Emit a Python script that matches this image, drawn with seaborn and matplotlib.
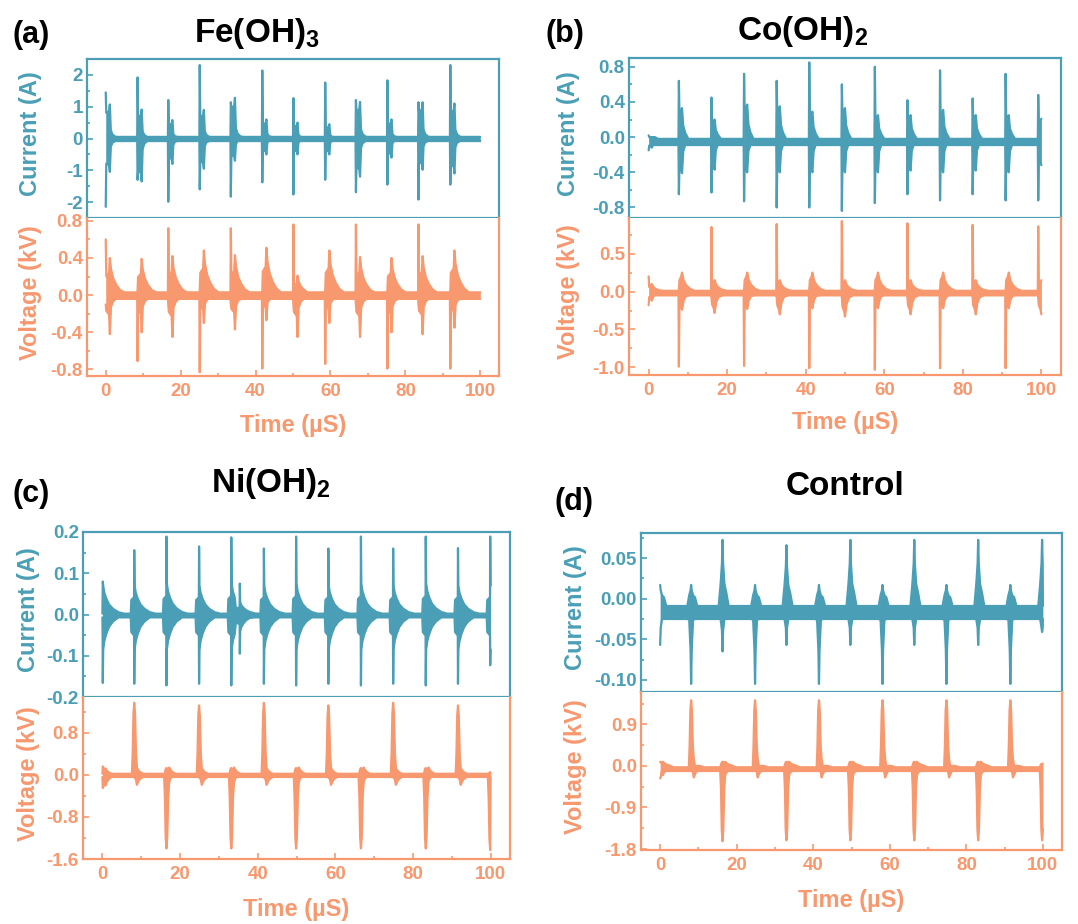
import numpy as np
import pandas as pd
import matplotlib
matplotlib.use("Agg")
import matplotlib.pyplot as plt
from matplotlib.ticker import MultipleLocator, FormatStrFormatter
import seaborn as sns

TEAL = "#4a9fb6"
CORAL = "#f7986f"

#### (a) Fe(OH)3 -- pulse times (us) and peak values
A_T = [0.0, 8.5, 16.7, 25.1, 33.4, 41.8, 50.1, 58.6, 66.8, 75.2, 83.5, 92.0]
A_CUR_HI = [1.45, 1.92, 1.21, 2.31, 1.14, 2.14, 1.27, 1.76, 1.21, 1.83, 1.14, 2.31]
A_CUR_LO = [-2.15, -1.30, -1.99, -1.60, -1.83, -1.38, -1.76, -1.30, -1.69, -1.45, -1.92, -1.45]
A_CUR_HI2 = [1.07, 0.91, 0.58, 0.90, 1.28, 0.60, 0.50, 0.45, 1.15, 0.60, 1.14, 1.10]
A_CUR_LO2 = [-1.05, -1.35, -0.80, -0.95, -0.70, -0.50, -0.50, -0.50, -1.20, -0.60, -0.98, -1.10]
A_VOLT_HI = [0.60, 0.05, 0.72, 0.05, 0.72, 0.05, 0.76, 0.05, 0.76, 0.05, 0.76, 0.05]
A_VOLT_LO = [-0.10, -0.71, -0.10, -0.83, -0.10, -0.79, -0.10, -0.74, -0.10, -0.79, -0.10, -0.79]
A_VOLT_HI2 = [0.40, 0.39, 0.42, 0.48, 0.43, 0.51, 0.21, 0.48, 0.41, 0.40, 0.42, 0.48]
A_VOLT_LO2 = [-0.42, -0.40, -0.45, -0.30, -0.37, -0.27, -0.45, -0.30, -0.45, -0.40, -0.42, -0.35]

#### (b) Co(OH)2
B_T = [0.0, 7.7, 16.0, 24.3, 32.6, 40.9, 49.2, 57.6, 65.9, 74.2, 82.5, 90.9, 99.2]
B_CUR_HI = [0.02, 0.64, 0.45, 0.72, 0.64, 0.85, 0.60, 0.80, 0.42, 0.76, 0.44, 0.72, 0.48]
B_CUR_LO = [-0.15, -0.65, -0.63, -0.73, -0.80, -0.80, -0.84, -0.75, -0.65, -0.72, -0.65, -0.72, -0.72]
B_CUR_HI2 = [0.00, 0.33, 0.20, 0.37, 0.35, 0.29, 0.33, 0.25, 0.25, 0.31, 0.25, 0.25, 0.21]
B_CUR_LO2 = [-0.12, -0.41, -0.37, -0.40, -0.40, -0.40, -0.40, -0.40, -0.38, -0.40, -0.38, -0.40, -0.32]
B_VOLT_HI = [0.20, 0.02, 0.85, 0.02, 0.89, 0.02, 0.93, 0.02, 0.90, 0.02, 0.88, 0.02, 0.86]
B_VOLT_LO = [-0.18, -0.99, -0.08, -0.98, -0.08, -1.01, -0.08, -1.03, -0.08, -1.01, -0.08, -1.01, -0.08]
B_VOLT_HI2 = [0.10, 0.25, 0.15, 0.25, 0.15, 0.25, 0.15, 0.25, 0.15, 0.25, 0.15, 0.25, 0.15]
B_VOLT_LO2 = [-0.12, -0.24, -0.28, -0.23, -0.30, -0.22, -0.33, -0.22, -0.30, -0.22, -0.30, -0.22, -0.30]

#### (c) Ni(OH)2
C_CUR_T = [0.1, 8.2, 16.5, 24.9, 33.2, 35.4, 41.6, 49.9, 58.2, 66.6, 74.9, 83.3, 91.6, 99.9]
C_CUR_HI = [0.080, 0.156, 0.189, 0.165, 0.187, 0.075, 0.160, 0.189, 0.160, 0.189, 0.160, 0.189, 0.161, 0.189]
C_CUR_LO = [-0.166, -0.168, -0.172, -0.168, -0.172, -0.095, -0.168, -0.172, -0.168, -0.172, -0.168, -0.172, -0.168, -0.123]
C_CUR_HI2 = [0.070, 0.070, 0.075, 0.070, 0.075, 0.030, 0.070, 0.075, 0.070, 0.075, 0.070, 0.075, 0.070, 0.070]
C_CUR_LO2 = [-0.085, -0.085, -0.085, -0.085, -0.085, -0.040, -0.085, -0.085, -0.085, -0.085, -0.085, -0.085, -0.085, -0.085]
C_VOLT_T = [0.1, 8.2, 16.5, 24.9, 33.2, 41.6, 49.9, 58.2, 66.6, 74.9, 83.3, 91.6, 99.9]
C_VOLT_HI = [0.16, 1.37, 0.13, 1.32, 0.13, 1.37, 0.13, 1.32, 0.13, 1.37, 0.13, 1.32, 0.05]
C_VOLT_LO = [-0.25, -0.05, -1.40, -0.05, -1.40, -0.05, -1.40, -0.05, -1.40, -0.05, -1.40, -0.05, -1.43]
C_VOLT_HI2 = [0.12, 0.13, 0.14, 0.13, 0.14, 0.13, 0.14, 0.13, 0.14, 0.13, 0.14, 0.13, 0.05]
C_VOLT_LO2 = [-0.20, -0.19, -0.10, -0.19, -0.10, -0.19, -0.10, -0.19, -0.10, -0.19, -0.10, -0.19, -0.10]

#### (d) Control
D_T = [0.0, 8.1, 16.3, 24.8, 33.0, 41.5, 49.7, 58.1, 66.4, 74.8, 83.1, 91.5, 99.8]
D_CUR_HI = [0.017, 0.017, 0.0725, 0.017, 0.066, 0.017, 0.0725, 0.017, 0.0725, 0.017, 0.0725, 0.017, 0.0725]
D_CUR_LO = [-0.057, -0.105, -0.065, -0.105, -0.057, -0.105, -0.057, -0.105, -0.057, -0.105, -0.057, -0.105, -0.041]
D_CUR_HI2 = [0.005] * 13
D_CUR_LO2 = [-0.036] * 13
D_VOLT_HI = [0.09, 1.42, 0.09, 1.42, 0.09, 1.42, 0.09, 1.42, 0.09, 1.42, 0.09, 1.42, 0.05]
D_VOLT_LO = [-0.27, -0.10, -1.63, -0.10, -1.61, -0.10, -1.61, -0.10, -1.61, -0.10, -1.61, -0.10, -1.61]
D_VOLT_HI2 = [0.09, 0.00, 0.09, 0.00, 0.09, 0.00, 0.09, 0.00, 0.09, 0.00, 0.09, 0.00, 0.05]
D_VOLT_LO2 = [-0.20, -0.25, -0.20, -0.25, -0.20, -0.25, -0.20, -0.25, -0.20, -0.25, -0.20, -0.25, -0.20]

# pulse envelope shapes: offsets (us), fraction of main peak,
# fraction of ringing peak on the upper side, same on the lower side
SHARP_CUR = ([-0.1, 0.0, 0.15, 0.9, 1.1, 1.35, 1.8, 2.6, 3.5],
             [0, 1, 0, 0, 0, 0, 0, 0, 0],
             [0, 0, 0.75, 0.8, 1, 0.25, 0.12, 0.05, 0],
             [0, 0, 0.75, 0.8, 1, 0.25, 0.12, 0.05, 0])
SHARP_VOLT = ([-0.1, 0.0, 0.15, 0.9, 1.1, 1.4, 2.0, 2.8, 3.8, 5.0],
              [0, 1, 0, 0, 0, 0, 0, 0, 0, 0],
              [0, 0, 0.5, 0.6, 1, 0.7, 0.45, 0.28, 0.14, 0],
              [0, 0, 0.4, 0.5, 1, 0.3, 0.15, 0.06, 0, 0])
B_CUR_SHAPE = ([-0.1, 0.0, 0.15, 0.6, 0.8, 1.1, 1.6, 2.4],
               [0, 1, 0, 0, 0, 0, 0, 0],
               [0, 0, 0.8, 0.9, 1, 0.4, 0.15, 0],
               [0, 0, 0.8, 0.9, 1, 0.4, 0.15, 0])
B_VOLT_SHAPE = ([-0.1, 0.0, 0.15, 0.6, 0.8, 1.2, 1.8, 2.8, 4.0],
                [0, 1, 0, 0, 0, 0, 0, 0, 0],
                [0, 0, 0.6, 0.8, 1, 0.6, 0.35, 0.15, 0],
                [0, 0, 0.6, 0.8, 1, 0.5, 0.25, 0.1, 0])
RING_CUR = ([-0.9, -0.75, -0.05, 0.0, 0.1, 0.4, 0.9, 1.6, 2.6, 4.0, 5.5],
            [0, 0, 0, 1, 0, 0, 0, 0, 0, 0, 0],
            [0, 0.5, 0.6, 0, 1, 0.75, 0.55, 0.35, 0.2, 0.08, 0],
            [0, 0.5, 0.6, 0, 1, 0.75, 0.55, 0.35, 0.2, 0.08, 0])
WIDE_VOLT = ([-0.6, -0.4, -0.2, 0.0, 0.2, 0.45, 0.7, 1.0, 1.5, 2.3, 3.5],
             [0, 0.3, 0.85, 1, 0.85, 0.3, 0.1, 0, 0, 0, 0],
             [0, 0, 0, 0, 0, 0.5, 1, 0.7, 0.4, 0.15, 0],
             [0, 0, 0, 0, 0, 0.5, 1, 0.7, 0.4, 0.15, 0])
TRI_CUR = ([-1.0, -0.5, -0.15, 0.0, 0.15, 0.5, 1.0, 1.6],
           [0, 0.25, 0.6, 1, 0.6, 0.25, 0.1, 0],
           [0, 0.6, 1, 0, 1, 0.6, 0.3, 0],
           [0, 0.6, 1, 0, 1, 0.6, 0.3, 0])


def envelope(times, hi, lo, hi2, lo2, shape, base, t_end=100.0):
    dt, fm, fs_up, fs_dn = shape
    xs, up, dn = [], [], []
    for i, t0 in enumerate(times):
        stop = times[i + 1] + dt[0] if i + 1 < len(times) else t_end
        for d, a, b, c in zip(dt, fm, fs_up, fs_dn):
            x = t0 + d
            if x < 0 or x > stop or (xs and x <= xs[-1]):
                continue
            u = [base[0]] + ([hi[i] * a] if a else []) + ([hi2[i] * b] if b else [])
            l = [base[1]] + ([lo[i] * a] if a else []) + ([lo2[i] * c] if c else [])
            xs.append(x)
            up.append(max(u))
            dn.append(min(l))
    if xs[0] > 0:
        xs, up, dn = [0.0] + xs, [base[0]] + up, [base[1]] + dn
    if xs[-1] < t_end:
        xs.append(t_end)
        up.append(base[0])
        dn.append(base[1])
    return pd.DataFrame({"t": xs, "upper": up, "lower": dn})


def draw_trace(ax, df, color):
    ax.fill_between(df["t"], df["lower"], df["upper"], color=color, lw=0)
    sns.lineplot(data=df, x="t", y="upper", ax=ax, color=color, lw=1.6,
                 estimator=None, sort=False)
    sns.lineplot(data=df, x="t", y="lower", ax=ax, color=color, lw=1.6,
                 estimator=None, sort=False)


sns.set_theme(style="white")
plt.rcParams["font.family"] = ["Liberation Sans", "DejaVu Sans"]
plt.rcParams["font.weight"] = "bold"
plt.rcParams["mathtext.fontset"] = "custom"
plt.rcParams["mathtext.bf"] = "Liberation Sans:bold"
plt.rcParams["mathtext.rm"] = "Liberation Sans:bold"

W, H = 1078, 924
fig = plt.figure(figsize=(W / 100, H / 100), dpi=100)
fig.patch.set_facecolor("white")

panels = [
    dict(box=(87, 499, 59, 218, 376), tag="(a)", tag_xy=(12, 43),
         title=r"Fe(OH)$_\mathbf{3}$", title_xy=(257, 42),
         cur=envelope(A_T, A_CUR_HI, A_CUR_LO, A_CUR_HI2, A_CUR_LO2, SHARP_CUR, (0.05, -0.08)),
         volt=envelope(A_T, A_VOLT_HI, A_VOLT_LO, A_VOLT_HI2, A_VOLT_LO2, SHARP_VOLT, (0.03, -0.04)),
         cur_lim=(-2.5, 2.5), cur_major=1, cur_minor=0.5, cur_fmt="%d",
         volt_lim=(-0.87, 0.83), volt_major=0.4, volt_minor=0.2, volt_fmt="%.1f",
         lab_x=-0.109, xpad=10),
    dict(box=(629, 1061, 58, 218, 375), tag="(b)", tag_xy=(546, 42),
         title=r"Co(OH)$_\mathbf{2}$", title_xy=(803, 40),
         cur=envelope(B_T, B_CUR_HI, B_CUR_LO, B_CUR_HI2, B_CUR_LO2, B_CUR_SHAPE, (-0.02, -0.09)),
         volt=envelope(B_T, B_VOLT_HI, B_VOLT_LO, B_VOLT_HI2, B_VOLT_LO2, B_VOLT_SHAPE, (0.01, -0.05)),
         cur_lim=(-0.92, 0.90), cur_major=0.4, cur_minor=0.2, cur_fmt="%.1f",
         volt_lim=(-1.10, 0.97), volt_major=0.5, volt_minor=0.25, volt_fmt="%.1f",
         lab_x=-0.113, xpad=9),
    dict(box=(83, 510, 532, 697, 859), tag="(c)", tag_xy=(12, 502),
         title=r"Ni(OH)$_\mathbf{2}$", title_xy=(271, 492),
         cur=envelope(C_CUR_T, C_CUR_HI, C_CUR_LO, C_CUR_HI2, C_CUR_LO2, RING_CUR, (0.002, -0.007)),
         volt=envelope(C_VOLT_T, C_VOLT_HI, C_VOLT_LO, C_VOLT_HI2, C_VOLT_LO2, WIDE_VOLT, (0.02, -0.04)),
         cur_lim=(-0.2, 0.2), cur_major=0.1, cur_minor=0.05, cur_fmt="%.1f",
         volt_lim=(-1.6, 1.48), volt_major=0.8, volt_minor=0.4, volt_fmt="%.1f",
         lab_x=-0.100, xpad=11),
    dict(box=(641, 1062, 533, 692, 850), tag="(d)", tag_xy=(554, 510),
         title="Control", title_xy=(845, 495),
         cur=envelope(D_T, D_CUR_HI, D_CUR_LO, D_CUR_HI2, D_CUR_LO2, TRI_CUR, (-0.009, -0.025)),
         volt=envelope(D_T, D_VOLT_HI, D_VOLT_LO, D_VOLT_HI2, D_VOLT_LO2, WIDE_VOLT, (-0.03, -0.11)),
         cur_lim=(-0.115, 0.081), cur_major=0.05, cur_minor=0.025, cur_fmt="%.2f",
         volt_lim=(-1.82, 1.60), volt_major=0.9, volt_minor=0.45, volt_fmt="%.1f",
         lab_x=-0.128, xpad=11),
]


def style_axis(ax, color, lim, major, minor, fmt):
    ax.set_ylim(*lim)
    ax.set_xlim(-5, 105)
    ax.yaxis.set_major_locator(MultipleLocator(major))
    ax.yaxis.set_minor_locator(MultipleLocator(minor))
    ax.yaxis.set_major_formatter(FormatStrFormatter(fmt))
    ax.xaxis.set_major_locator(MultipleLocator(20))
    ax.xaxis.set_minor_locator(MultipleLocator(10))
    ax.xaxis.set_major_formatter(FormatStrFormatter("%d"))
    for s in ax.spines.values():
        s.set_color(color)
        s.set_linewidth(1.6)
    ax.tick_params(axis="both", which="both", direction="in", colors=color,
                   width=1.2, labelsize=13.5, pad=3, left=True, bottom=True)
    ax.tick_params(which="major", length=4.5)
    ax.tick_params(which="minor", length=2.5)
    for lbl in ax.get_yticklabels() + ax.get_xticklabels():
        lbl.set_fontweight("bold")
    ax.grid(False)


for p in panels:
    left, right, top, mid, bottom = p["box"]
    ax_c = fig.add_axes([left / W, 1 - mid / H, (right - left) / W, (mid - top) / H])
    ax_v = fig.add_axes([left / W, 1 - bottom / H, (right - left) / W, (bottom - mid) / H])

    draw_trace(ax_c, p["cur"], TEAL)
    draw_trace(ax_v, p["volt"], CORAL)

    style_axis(ax_c, TEAL, p["cur_lim"], p["cur_major"], p["cur_minor"], p["cur_fmt"])
    style_axis(ax_v, CORAL, p["volt_lim"], p["volt_major"], p["volt_minor"], p["volt_fmt"])
    ax_c.tick_params(axis="x", which="both", bottom=False, labelbottom=False)
    ax_v.spines["top"].set_visible(False)
    ax_v.tick_params(axis="x", pad=5)

    ax_c.set_ylabel("Current (A)", color=TEAL, fontsize=17, fontweight="bold")
    ax_v.set_ylabel("Voltage (kV)", color=CORAL, fontsize=17, fontweight="bold")
    ax_c.yaxis.set_label_coords(p["lab_x"], 0.53)
    ax_v.yaxis.set_label_coords(p["lab_x"], 0.53)
    ax_v.set_xlabel("Time (µS)", color=CORAL, fontsize=17, fontweight="bold",
                    labelpad=p["xpad"])

    fig.text(p["tag_xy"][0] / W, 1 - p["tag_xy"][1] / H, p["tag"], fontsize=22,
             fontweight="bold", color="black", ha="left", va="baseline")
    fig.text(p["title_xy"][0] / W, 1 - p["title_xy"][1] / H, p["title"], fontsize=24,
             fontweight="bold", color="black", ha="center", va="baseline")

fig.savefig("out.png", dpi=100, facecolor="white")
